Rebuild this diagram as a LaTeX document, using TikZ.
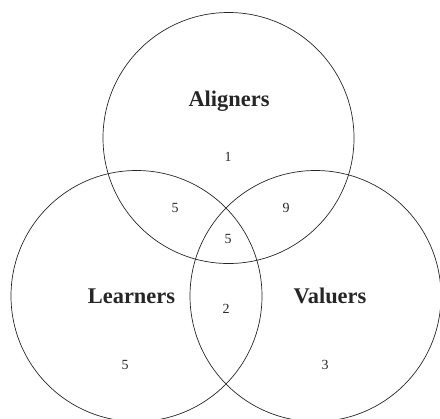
\documentclass[tikz,border=0pt]{standalone}
\usepackage{fontspec}
\setmainfont{Liberation Serif}
\begin{document}
\begin{tikzpicture}[x=1bp,y=-1bp,
  setc/.style={circle,draw=black!85,line width=0.7bp,minimum size=251bp,inner sep=0pt},
  title/.style={font=\fontsize{22.5}{26}\selectfont\bfseries,text=black!85},
  num/.style={font=\fontsize{14}{16}\selectfont,text=black!85}]
\useasboundingbox (0,0) rectangle (440,418);
\begin{scope}
\clip (0,0) rectangle (440,418);
\node[setc] (A) at (228.5,138) {};
\node[setc] (L) at (136.5,296) {};
\node[setc] (V) at (315.5,296) {};
\end{scope}
\node[title] (tA) at (229,101) {Aligners};
\node[title] (tL) at (131.5,296) {Learners};
\node[title] (tV) at (330,296) {Valuers};
\node[num] (n1) at (228,157) {1};
\node[num] (nAL) at (175,208) {5};
\node[num] (nAV) at (286,208) {9};
\node[num] (nALV) at (228,239) {5};
\node[num] (nLV) at (226,309) {2};
\node[num] (nL) at (125,365) {5};
\node[num] (nV) at (325,365) {3};
\end{tikzpicture}
\end{document}
